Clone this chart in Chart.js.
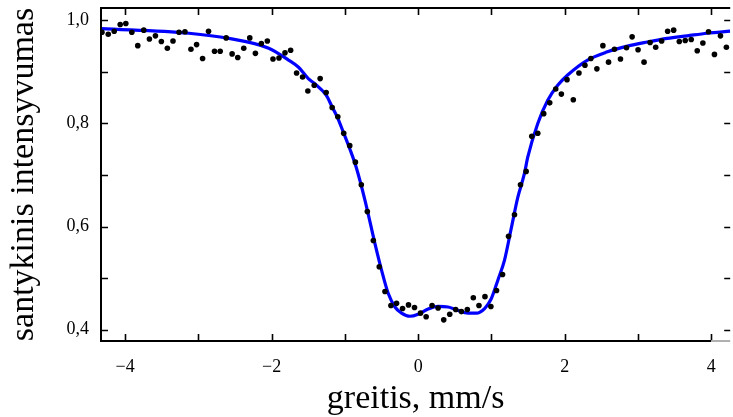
<!DOCTYPE html>
<html><head><meta charset="utf-8">
<script src="https://cdn.jsdelivr.net/npm/chart.js@4.4.0/dist/chart.umd.min.js"></script>
<style>html,body{margin:0;padding:0;background:#fff;}#wrap{width:733px;height:417px;position:relative;}</style>
</head><body><div id="wrap"><canvas id="c" width="733" height="417"></canvas></div>
<script>
// measured points: velocity (mm/s) and relative intensity
const velocity = [-4.317,-4.231,-4.150,-4.068,-3.991,-3.909,-3.828,-3.746,-3.669,-3.587,-3.506,-3.424,-3.347,-3.265,-3.184,-3.102,-3.025,-2.943,-2.862,-2.780,-2.703,-2.621,-2.540,-2.463,-2.381,-2.299,-2.222,-2.141,-2.059,-1.982,-1.900,-1.818,-1.741,-1.660,-1.578,-1.506,
 -1.419,-1.338,-1.256,-1.174,-1.097,-1.016,-0.934,-0.857,
 -0.776,-0.694,-0.612,-0.531,-0.453,-0.372,-0.295,-0.213,-0.132,-0.050,0.032,0.109,0.190,0.272,0.349,0.431,0.513,0.590,0.671,0.753,0.830,0.912,0.993,1.070,1.152,1.234,1.315,1.397,1.474,
 1.551,1.633,1.714,1.796,1.878,1.955,2.032,2.118,2.195,2.277,2.358,2.440,2.522,2.599,2.680,2.762,2.844,2.921,3.002,3.084,3.166,3.243,3.324,3.406,3.488,3.565,3.646,3.728,3.810,3.887,3.964,4.045,4.127,4.208];
const intensity = [0.977,0.973,0.979,0.992,0.994,0.977,0.951,0.981,0.964,0.970,0.959,0.946,0.960,0.977,0.978,0.944,0.953,0.926,0.979,0.940,0.940,0.966,0.935,0.928,0.946,0.966,0.936,0.955,0.960,0.925,0.927,0.937,0.942,0.898,0.890,0.863,
 0.874,0.887,0.860,0.831,0.813,0.781,0.757,0.725,
 0.681,0.629,0.573,0.522,0.474,0.447,0.451,0.441,0.448,0.443,0.432,0.425,0.447,0.442,0.419,0.430,0.439,0.435,0.439,0.462,0.447,0.464,0.445,0.476,0.507,0.581,0.623,0.681,0.707,
 0.775,0.781,0.819,0.840,0.867,0.857,0.885,0.846,0.898,0.913,0.926,0.906,0.951,0.919,0.944,0.925,0.947,0.968,0.943,0.919,0.957,0.948,0.960,0.979,0.981,0.959,0.961,0.963,0.941,0.956,0.978,0.934,0.970,0.948];
// fitted curve
const fitVelocity = [-4.33,-3.13,-2.585,-2.04,-1.77,-1.633,-1.50,-1.419,-1.256,-1.174,-1.097,-1.016,-0.934,-0.848,-0.726,-0.590,-0.499,-0.408,-0.317,-0.227,-0.113,0.0,0.136,0.272,0.408,0.544,0.680,0.794,0.907,0.998,1.088,1.179,1.270,1.361,1.451,1.497,1.633,1.769,1.905,2.041,2.313,2.585,2.857,3.129,3.401,3.673,3.946,4.26];
const fitIntensity = [0.984,0.975,0.965,0.946,0.923,0.909,0.887,0.878,0.855,0.832,0.810,0.781,0.751,0.716,0.651,0.567,0.515,0.470,0.444,0.432,0.426,0.430,0.440,0.445,0.444,0.437,0.432,0.432,0.441,0.460,0.496,0.535,0.596,0.657,0.703,0.735,0.800,0.845,0.874,0.894,0.923,0.939,0.950,0.958,0.965,0.970,0.975,0.979];
const xTickValues = [-4,-2,0,2,4];
const xMinorTicks = [-4,-3,-2,-1,0,1,2,3,4];
const yTickValues = [0.4,0.6,0.8,1.0];
const yMinorTicks = [0.4,0.5,0.6,0.7,0.8,0.9,1.0];
const xTitle = 'greitis, mm/s';
const yTitle = 'santykinis intensyvumas';

const fmt = v => (v < 0 ? '\u2212' : '') + Math.abs(v).toString();
const fmtY = v => v.toFixed(1).replace('.', ',');

const framePlugin = {
  id: 'frame',
  afterDatasetsDraw(chart) {
    const {ctx, chartArea: a, scales: {x, y}} = chart;
    ctx.save();
    ctx.strokeStyle = '#000';
    ctx.lineWidth = 1.6;
    const tl = 7;
    ctx.beginPath();
    xMinorTicks.forEach(v => {
      const px = Math.round(x.getPixelForValue(v)) + 0.5;
      ctx.moveTo(px, a.bottom); ctx.lineTo(px, a.bottom - tl);
      ctx.moveTo(px, a.top); ctx.lineTo(px, a.top + tl);
    });
    yMinorTicks.forEach(v => {
      const py = Math.round(y.getPixelForValue(v)) + 0.5;
      ctx.moveTo(a.left, py); ctx.lineTo(a.left + tl, py);
      ctx.moveTo(a.right, py); ctx.lineTo(a.right - tl + 1, py);
    });
    ctx.stroke();
    ctx.lineWidth = 2;
    ctx.beginPath();
    ctx.moveTo(a.left, a.top); ctx.lineTo(a.right, a.top);
    ctx.moveTo(a.left, a.top - 1); ctx.lineTo(a.left, a.bottom + 1);
    const x4 = x.getPixelForValue(xMinorTicks[xMinorTicks.length - 1]);
    ctx.moveTo(a.left - 1, a.bottom); ctx.lineTo(x4, a.bottom);
    ctx.stroke();
    ctx.strokeStyle = '#b0b0b0';
    ctx.beginPath();
    ctx.moveTo(x4, a.bottom); ctx.lineTo(a.right, a.bottom);
    ctx.stroke();
    ctx.restore();
  }
};

const serif = "'Liberation Serif', 'Times New Roman', serif";

new Chart(document.getElementById('c'), {
  type: 'scatter',
  data: {
    datasets: [
      {
        label: 'matavimai',
        data: velocity.map((v, i) => ({x: v, y: intensity[i]})),
        backgroundColor: '#000',
        borderWidth: 0,
        pointRadius: 2.8,
        pointHoverRadius: 2.8
      },
      {
        label: 'aproksimacija',
        data: fitVelocity.map((v, i) => ({x: v, y: fitIntensity[i]})),
        showLine: true,
        borderColor: '#0000ff',
        borderWidth: 3.2,
        pointRadius: 0,
        cubicInterpolationMode: 'monotone',
        fill: false
      }
    ]
  },
  options: {
    responsive: false,
    animation: false,
    devicePixelRatio: 1,
    layout: {padding: {top: 8, right: 0, left: 0, bottom: 0}},
    plugins: {legend: {display: false}, tooltip: {enabled: false}},
    scales: {
      x: {
        type: 'linear', min: -4.33, max: 4.26,
        afterBuildTicks: s => { s.ticks = xTickValues.map(v => ({value: v})); },
        afterFit: s => { s.height = 76; s.paddingLeft = 0; s.paddingRight = 0; },
        grid: {display: false, drawTicks: false},
        border: {display: false},
        ticks: {callback: v => fmt(v), color: '#000', padding: 15, maxRotation: 0,
                font: {family: serif, size: 18}},
        title: {display: true, text: xTitle, color: '#000', padding: {top: 0, bottom: -2},
                font: {family: serif, size: 34}}
      },
      y: {
        type: 'linear', min: 0.378, max: 1.024,
        afterBuildTicks: s => { s.ticks = yTickValues.map(v => ({value: v})); },
        afterFit: s => { s.width = 101; s.paddingTop = 0; s.paddingBottom = 0; },
        grid: {display: false, drawTicks: false},
        border: {display: false},
        ticks: {callback: v => fmtY(v), color: '#000', padding: 12,
                font: {family: serif, size: 18}},
        title: {display: true, text: yTitle, color: '#000', padding: {top: 4, bottom: 0},
                font: {family: serif, size: 34}}
      }
    }
  },
  plugins: [framePlugin]
});
</script></body></html>
